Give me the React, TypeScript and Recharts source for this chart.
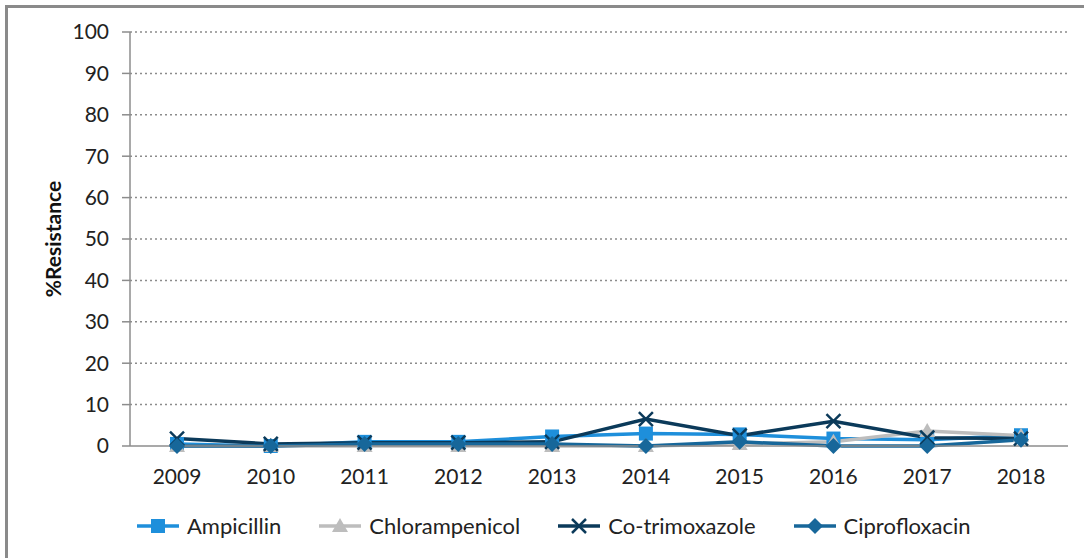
import React from 'react';
import { LineChart, Line, XAxis, YAxis, CartesianGrid, Label } from 'recharts';

const years = ['2009', '2010', '2011', '2012', '2013', '2014', '2015', '2016', '2017', '2018'];
const ampicillin = [0.5, 0, 1, 1, 2.3, 3, 2.8, 1.8, 1.5, 2.6];
const chloramphenicol = [0, 0, 0, 0, 0, 0, 0.5, 1, 3.6, 2.5];
const cotrimoxazole = [1.8, 0.5, 0.8, 0.8, 1, 6.5, 2.5, 6, 2, 1.8];
const ciprofloxacin = [0, 0, 0.5, 0.5, 0.5, 0, 1, 0, 0, 1.5];
const yTicks = [0, 10, 20, 30, 40, 50, 60, 70, 80, 90, 100];

const data = years.map((y, i) => ({
  year: y,
  ampicillin: ampicillin[i],
  chloramphenicol: chloramphenicol[i],
  cotrimoxazole: cotrimoxazole[i],
  ciprofloxacin: ciprofloxacin[i],
}));

const C_AMP = '#1E8FDB';
const C_CHL = '#BDBDBD';
const C_COT = '#0B3A5A';
const C_CIP = '#17679A';

type Shape = 'square' | 'triangle' | 'x' | 'diamond';

const marker = (shape: Shape, color: string, cx: number, cy: number, key?: any) => {
  if (cx == null || cy == null) return <g key={key} />;
  if (shape === 'square') return <rect key={key} x={cx - 7} y={cy - 7} width={14} height={14} fill={color} />;
  if (shape === 'triangle')
    return <polygon key={key} points={`${cx},${cy - 8} ${cx + 8},${cy + 6} ${cx - 8},${cy + 6}`} fill={color} />;
  if (shape === 'x')
    return (
      <g key={key} stroke={color} strokeWidth={2.5}>
        <line x1={cx - 7} y1={cy - 7} x2={cx + 7} y2={cy + 7} />
        <line x1={cx - 7} y1={cy + 7} x2={cx + 7} y2={cy - 7} />
      </g>
    );
  return <polygon key={key} points={`${cx},${cy - 8} ${cx + 8},${cy} ${cx},${cy + 8} ${cx - 8},${cy}`} fill={color} />;
};

const dotFn = (shape: Shape, color: string) => (props: any) => marker(shape, color, props.cx, props.cy, props.key ?? `${shape}-${props.index}`);

const series: { key: string; name: string; color: string; shape: Shape }[] = [
  { key: 'ampicillin', name: 'Ampicillin', color: C_AMP, shape: 'square' },
  { key: 'chloramphenicol', name: 'Chlorampenicol', color: C_CHL, shape: 'triangle' },
  { key: 'cotrimoxazole', name: 'Co-trimoxazole', color: C_COT, shape: 'x' },
  { key: 'ciprofloxacin', name: 'Ciprofloxacin', color: C_CIP, shape: 'diamond' },
];

const FONT = 'Lato, "Open Sans", sans-serif';

export default function App() {
  return (
    <div style={{ position: 'absolute', left: 0, top: 0, width: 1084, height: 558, background: '#fff', fontFamily: FONT }}>
      <div
        style={{
          position: 'absolute',
          left: 5,
          top: 5,
          width: 1090,
          height: 560,
          borderLeft: '3px solid #8a8a8a',
          borderTop: '3px solid #8a8a8a',
        }}
      />
      <div style={{ position: 'absolute', left: 0, top: 0 }}>
        <LineChart width={1084} height={558} data={data} margin={{ top: 32, right: 16, left: 0, bottom: 72 }}>
          <CartesianGrid
            vertical={false}
            horizontalValues={[10, 20, 30, 40, 50, 60, 70, 80, 90, 100]}
            stroke="#8c8c8c"
            strokeDasharray="2 3"
            strokeWidth={1.5}
          />
          <XAxis
            dataKey="year"
            height={40}
            padding={{ left: 47, right: 47 }}
            tickLine={false}
            axisLine={{ stroke: '#8c8c8c', strokeWidth: 1.5 }}
            tick={{ fill: '#222', fontSize: 21, fontFamily: FONT }}
            tickMargin={17}
            interval={0}
          />
          <YAxis
            width={130}
            domain={[0, 100]}
            ticks={yTicks}
            interval={0}
            tickSize={8}
            tickLine={{ stroke: '#8c8c8c', strokeWidth: 1.5 }}
            axisLine={{ stroke: '#8c8c8c', strokeWidth: 1.5 }}
            tick={{ fill: '#222', fontSize: 21, fontFamily: FONT }}
            tickMargin={13}
          >
            <Label
              content={() => (
                <text
                  x={52}
                  y={239}
                  transform="rotate(-90, 52, 239)"
                  textAnchor="middle"
                  dominantBaseline="central"
                  fontSize={21}
                  fontWeight="bold"
                  fill="#111"
                  fontFamily={FONT}
                >
                  %Resistance
                </text>
              )}
            />
          </YAxis>
          {series.map((s) => (
            <Line
              key={s.key}
              type="linear"
              dataKey={s.key}
              name={s.name}
              stroke={s.color}
              strokeWidth={3.5}
              dot={dotFn(s.shape, s.color)}
              activeDot={false}
              isAnimationActive={false}
            />
          ))}
        </LineChart>
      </div>
      <div
        style={{
          position: 'absolute',
          left: 137,
          top: 512,
          display: 'flex',
          alignItems: 'center',
          fontSize: 22,
          color: '#222',
          fontFamily: FONT,
        }}
      >
        {series.map((s) => (
          <div key={s.key} style={{ display: 'flex', alignItems: 'center', marginRight: 38 }}>
            <svg width={42} height={24}>
              <line x1={0} y1={12} x2={42} y2={12} stroke={s.color} strokeWidth={3.5} />
              {marker(s.shape, s.color, 21, 12)}
            </svg>
            <span style={{ marginLeft: 8 }}>{s.name}</span>
          </div>
        ))}
      </div>
    </div>
  );
}
